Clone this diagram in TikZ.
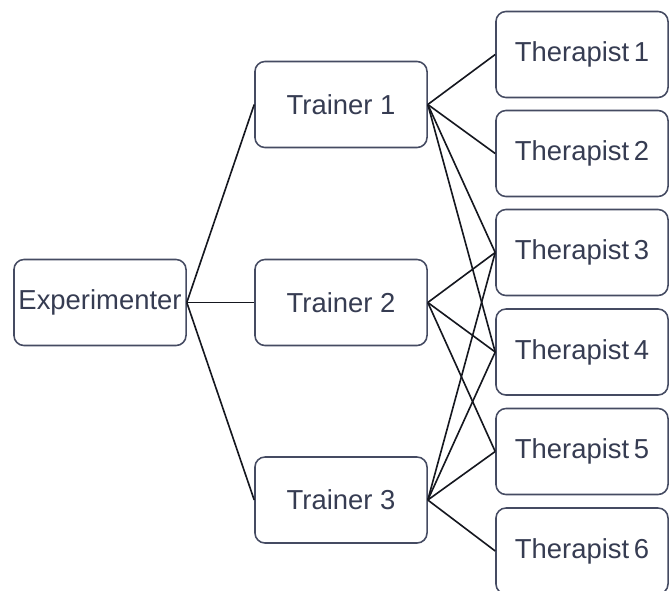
\documentclass[tikz,border=0pt]{standalone}
\usepackage{fontspec}
\setmainfont{Liberation Sans}
\definecolor{boxline}{HTML}{454B62}
\definecolor{boxtext}{HTML}{363C52}
\definecolor{wire}{HTML}{15171F}
\tikzset{
	role/.style={draw=boxline, line width=1.1pt, rounded corners=0.25cm, fill=white,
		minimum width=4.3cm, minimum height=2.15cm, inner xsep=1pt,
		text=boxtext, font=\fontsize{19.5}{23}\selectfont},
	wire/.style={draw=wire, line width=1.15pt}
}
\begin{document}
\begin{tikzpicture}[x=0.025cm,y=-0.025cm]
	\useasboundingbox (0,0) rectangle (670,591);

	\node[role] (exp) at (100,302.5) {Experimenter};

	\node[role] (tr1) at (341,104.5) {Trainer 1};
	\node[role] (tr2) at (341,302.5) {Trainer 2};
	\node[role] (tr3) at (341,500) {Trainer 3};

	\foreach \i/\y in {1/54.5,2/153.5,3/252.5,4/352,5/451.5,6/551}
		\node[role] (th\i) at (582,\y) {Therapist\,\i};

	\foreach \t in {tr1,tr2,tr3}
		\draw[wire] (exp.east) -- (\t.west);

	\foreach \a/\b in {tr1/th1,tr1/th2,tr1/th3,tr1/th4,
		tr2/th3,tr2/th4,tr2/th5,
		tr3/th3,tr3/th4,tr3/th5,tr3/th6}
		\draw[wire] (\a.east) -- (\b.west);
\end{tikzpicture}
\end{document}
